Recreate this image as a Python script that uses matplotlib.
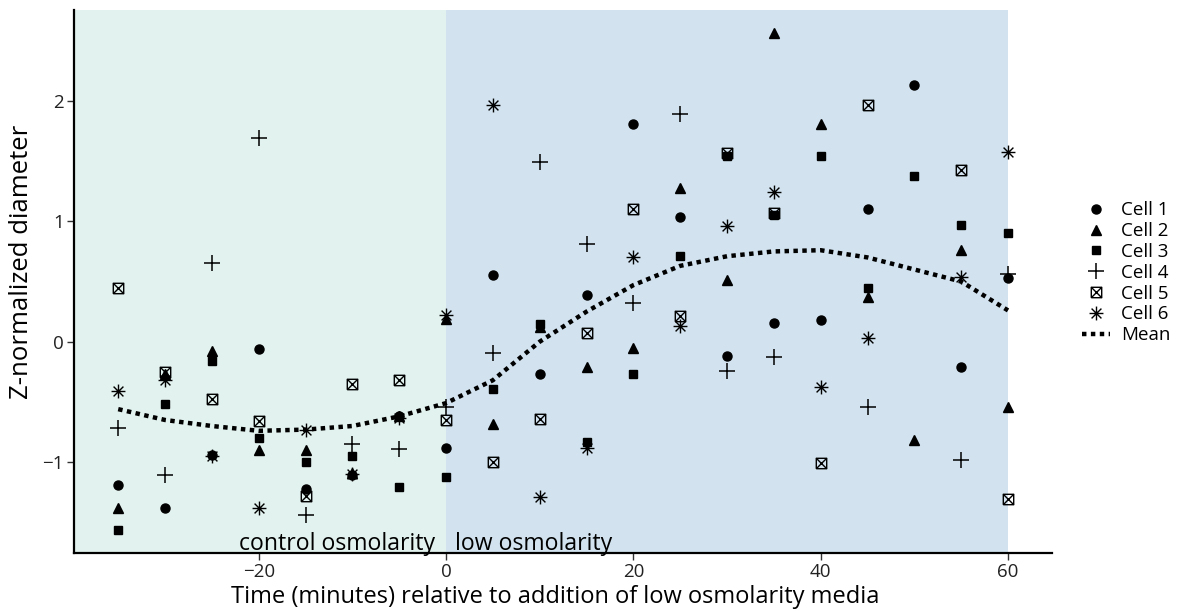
import numpy as np
import matplotlib
matplotlib.use("Agg")
import matplotlib.pyplot as plt
from matplotlib.path import Path

plt.rcParams['font.family'] = ['Open Sans', 'DejaVu Sans']

# time points (minutes)
t = [-35, -30, -25, -20, -15, -10, -5, 0, 5, 10, 15, 20, 25, 30, 35, 40, 45, 50, 55, 60]
nan = np.nan

cell1 = [-1.19, -1.38, -0.94, -0.06, -1.22, -1.11, -0.62, -0.88, 0.55, -0.27, 0.39, 1.81,
         1.04, -0.12, 0.155, 0.18, 1.10, 2.13, -0.21, 0.53]
cell2 = [-1.38, -0.27, -0.075, -0.90, -0.90, -1.09, -0.62, 0.19, -0.68, 0.12, -0.21, -0.05,
         1.28, 0.515, 2.56, 1.81, 0.37, -0.815, 0.765, -0.545]
cell3 = [-1.56, -0.515, -0.16, -0.80, -1.00, -0.95, -1.21, -1.12, -0.39, 0.15, -0.83, -0.27,
         0.715, 1.54, 1.05, 1.54, 0.445, 1.38, 0.97, 0.90]
cell4 = [-0.72, -1.105, 0.657, 1.69, -1.44, -0.85, -0.89, -0.54, -0.09, 1.49, 0.81, 0.32,
         1.89, -0.24, -0.13, nan, -0.54, nan, -0.98, 0.565]
cell5 = [0.45, -0.255, -0.476, -0.657, -1.28, -0.35, -0.32, -0.65, -1.00, -0.64, 0.07, 1.10,
         0.21, 1.57, 1.07, -1.01, 1.965, nan, 1.43, -1.31]
cell6 = [-0.41, -0.32, -0.953, -1.38, -0.73, -1.10, -0.63, 0.22, 1.97, -1.29, -0.88, 0.70,
         0.13, 0.96, 1.24, -0.38, 0.03, nan, 0.535, 1.575]
mean_curve = [-0.56, -0.65, -0.70, -0.74, -0.73, -0.70, -0.62, -0.51, -0.32, 0.00, 0.25, 0.47,
              0.63, 0.71, 0.75, 0.76, 0.70, 0.60, 0.50, 0.26]

# custom markers: open square with X (ggplot shape 7), asterisk (shape 8)
box_x = Path([(-1, -1), (1, -1), (1, 1), (-1, 1), (-1, -1), (-1, -1), (1, 1), (-1, 1), (1, -1)],
             [Path.MOVETO, Path.LINETO, Path.LINETO, Path.LINETO, Path.LINETO,
              Path.MOVETO, Path.LINETO, Path.MOVETO, Path.LINETO])
d = 0.7071
star8 = Path([(0, -1), (0, 1), (-1, 0), (1, 0), (-d, -d), (d, d), (-d, d), (d, -d)],
             [Path.MOVETO, Path.LINETO] * 4)

fig = plt.figure(figsize=(11.91, 6.11), dpi=100)
ax = fig.add_axes([0.0619, 0.0949, 0.8218, 0.8887])

ax.axvspan(-40, 0, color='#e2f2ee', lw=0, zorder=0)
ax.axvspan(0, 60, color='#d2e3ef', lw=0, zorder=0)

ax.plot(t, cell1, ls='none', marker='o', ms=6.5, color='black', label='Cell 1')
ax.plot(t, cell2, ls='none', marker='^', ms=7.5, color='black', label='Cell 2')
ax.plot(t, cell3, ls='none', marker='s', ms=6, color='black', label='Cell 3')
ax.plot(t, cell4, ls='none', marker='+', ms=11, mew=1.1, color='black', label='Cell 4')
ax.plot(t, cell5, ls='none', marker=box_x, ms=7.5, mew=1.0, mfc='none', mec='black', color='black', label='Cell 5')
ax.plot(t, cell6, ls='none', marker=star8, ms=10, mew=1.0, color='black', label='Cell 6')
ax.plot(t, mean_curve, color='black', lw=3.2, ls=(0, (1, 1)), dash_capstyle='butt', label='Mean')

ax.set_xlim(-39.75, 64.75)
ax.set_ylim(-1.755, 2.755)
ax.set_xticks([-20, 0, 20, 40, 60])
ax.set_xticklabels(['\u221220', '0', '20', '40', '60'])
ax.set_yticks([-1, 0, 1, 2])
ax.set_yticklabels(['\u22121', '0', '1', '2'])
ax.tick_params(labelsize=13.5, length=5, width=1, color='#333333', labelcolor='#222222', pad=2)

for s in ['top', 'right']:
    ax.spines[s].set_visible(False)
for s in ['left', 'bottom']:
    ax.spines[s].set_linewidth(1.6)

ax.set_xlabel('Time (minutes) relative to addition of low osmolarity media', fontsize=17)
ax.set_ylabel('Z-normalized diameter', fontsize=18.5, labelpad=6)
ax.xaxis.set_label_coords(0.492, -0.104)
ax.xaxis.label.set_va('bottom')
ax.yaxis.label.set_y(0.536)

trans = ax.get_xaxis_transform()
ax.text(-1.2, -0.005, 'control osmolarity', transform=trans, ha='right', va='bottom', fontsize=16.6)
ax.text(1.0, -0.005, 'low osmolarity', transform=trans, ha='left', va='bottom', fontsize=16.6)

leg = ax.legend(loc='center left', bbox_to_anchor=(1.013, 0.516), frameon=False, fontsize=13.5,
                handlelength=1.5, handletextpad=0.6, labelspacing=0.15)

fig.savefig('out.png', dpi=100)
